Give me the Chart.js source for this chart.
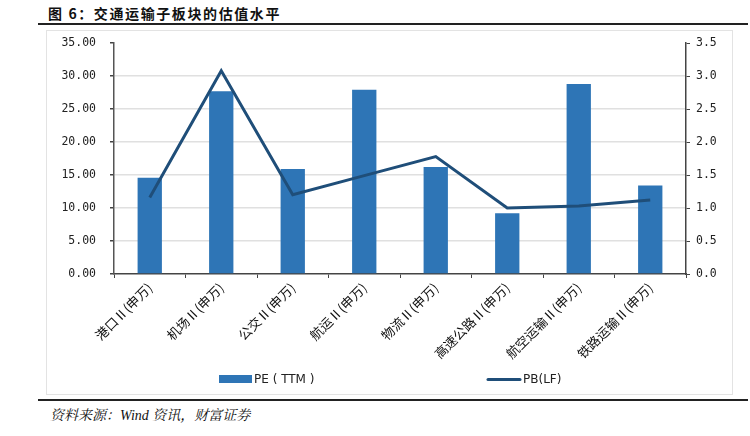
<!DOCTYPE html>
<html>
<head>
<meta charset="utf-8">
<script src="https://cdn.jsdelivr.net/npm/chart.js@4"></script>
<style>
  html, body { margin:0; padding:0; background:#fff; }
  #wrap { position:relative; width:750px; height:436px; overflow:hidden; }
  #title { position:absolute; left:48px; top:3px; font-family:"Noto Sans CJK SC"; font-weight:bold; font-size:14px; letter-spacing:1.6px; color:#111; white-space:nowrap; }
  .rule { position:absolute; left:38px; width:710px; height:2px; background:#222; }
  #frame { position:absolute; left:46px; top:30px; width:687px; height:365px; border:1px solid #e3e3e3; box-sizing:border-box; }
  #source { position:absolute; left:50px; top:404px; font-family:"Liberation Serif","Noto Serif CJK SC",serif; font-style:italic; font-size:14px; color:#111; white-space:nowrap; }
  canvas { position:absolute; left:0; top:0; }
</style>
</head>
<body>
<div id="wrap">
  <div id="title">图 6：交通运输子板块的估值水平</div>
  <div class="rule" style="top:23px"></div>
  <div id="frame"></div>
  <div class="rule" style="top:399px"></div>
  <div id="source">资料来源：Wind 资讯，财富证券</div>
  <canvas id="c" width="750" height="436"></canvas>
</div>
<script>
const categories = ["港口Ⅱ(申万)", "机场Ⅱ(申万)", "公交Ⅱ(申万)", "航运Ⅱ(申万)", "物流Ⅱ(申万)", "高速公路Ⅱ(申万)", "航空运输Ⅱ(申万)", "铁路运输Ⅱ(申万)"];
const peTTM = [14.6, 27.7, 15.9, 27.9, 16.2, 9.2, 28.8, 13.4];
const pbLF = [1.16, 3.08, 1.20, 1.49, 1.78, 1.00, 1.03, 1.12];
const seriesNames = ["PE ( TTM )", "PB(LF)"];
const leftTicks = [0, 35, 5];
const rightTicks = [0, 3.5, 0.5];

const BAR = "#2e75b6", LINE = "#1f4e79";
const tickFont = { family: "DejaVu Sans Mono", size: 11.5 };

const legendPlugin = {
  id: "customLegend",
  afterDraw(chart) {
    const ctx = chart.ctx;
    const bar = chart.data.datasets.find(d => d.type === "bar");
    const line = chart.data.datasets.find(d => d.type === "line");
    ctx.save();
    ctx.font = "12px 'DejaVu Sans'";
    ctx.textBaseline = "middle";
    ctx.fillStyle = bar.backgroundColor;
    ctx.fillRect(219, 375, 33, 8);
    ctx.fillStyle = "#222";
    ctx.fillText(bar.label, 254, 380);
    ctx.strokeStyle = line.borderColor;
    ctx.lineWidth = 3;
    ctx.lineCap = "round";
    ctx.beginPath(); ctx.moveTo(488, 379.5); ctx.lineTo(520, 379.5); ctx.stroke();
    ctx.fillText(line.label, 523, 380);
    ctx.restore();
  }
};

new Chart(document.getElementById("c"), {
  data: {
    labels: categories,
    datasets: [
      { type: "line", label: seriesNames[1], data: pbLF, yAxisID: "y1", borderColor: LINE, borderWidth: 3, pointRadius: 0, tension: 0, order: 0 },
      { type: "bar", label: seriesNames[0], data: peTTM, yAxisID: "y", backgroundColor: BAR, barPercentage: 0.34, categoryPercentage: 1, order: 1 }
    ]
  },
  options: {
    responsive: false,
    animation: false,
    layout: { padding: { left: 40, right: 14, top: 43, bottom: 0 } },
    plugins: { legend: { display: false }, tooltip: { enabled: false } },
    scales: {
      x: {
        offset: true,
        grid: { display: true, drawOnChartArea: false, drawTicks: true, tickLength: 4, tickColor: "#444", offset: true },
        border: { display: true, color: "#444", width: 1.5 },
        ticks: { font: { family: "Noto Sans CJK SC", size: 13 }, color: "#111", maxRotation: 45, minRotation: 45, padding: 2 },
        afterFit(s) { s.height = 162; }
      },
      y: {
        position: "left",
        min: leftTicks[0], max: leftTicks[1],
        ticks: { stepSize: leftTicks[2], font: tickFont, color: "#222", padding: 14, callback: v => v.toFixed(2) },
        grid: { color: c => (c.tick && (c.tick.value === 35 || c.tick.value === 0)) ? "rgba(0,0,0,0)" : "#e0e0e0", lineWidth: 1.5, tickColor: "#444", tickLength: 4 },
        border: { display: true, color: "#555", width: 1.5 },
        afterFit(s) { s.width = 74; }
      },
      y1: {
        position: "right",
        min: rightTicks[0], max: rightTicks[1],
        ticks: { stepSize: rightTicks[2], font: tickFont, color: "#222", padding: 6, callback: v => v.toFixed(1) },
        grid: { drawOnChartArea: false, tickColor: "#444", tickLength: 4 },
        border: { display: true, color: "#444", width: 1.5 },
        afterFit(s) { s.width = 50; }
      }
    }
  },
  plugins: [legendPlugin]
});
</script>
</body>
</html>
